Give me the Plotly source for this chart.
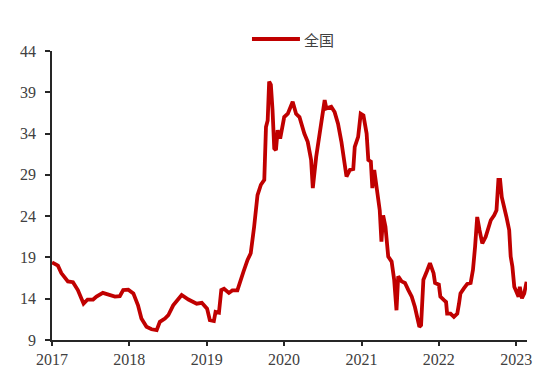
import plotly.graph_objects as go

dates = [
    "2017-01-01", "2017-01-29", "2017-02-14", "2017-03-17", "2017-04-10", "2017-05-03", "2017-05-30",
    "2017-06-18", "2017-07-14", "2017-07-30", "2017-08-29", "2017-10-01", "2017-10-25", "2017-11-17",
    "2017-12-03", "2017-12-27",
    "2018-01-20", "2018-02-11", "2018-02-27", "2018-03-23", "2018-04-16", "2018-05-10", "2018-05-25",
    "2018-06-18", "2018-07-04", "2018-07-27", "2018-08-13", "2018-09-05", "2018-10-07", "2018-11-15",
    "2018-12-09",
    "2019-01-03", "2019-01-16", "2019-02-04", "2019-02-12", "2019-02-28", "2019-03-11", "2019-03-24",
    "2019-04-16", "2019-05-02", "2019-05-26", "2019-06-11", "2019-06-24", "2019-07-13", "2019-07-28",
    "2019-08-13", "2019-08-29", "2019-09-14", "2019-09-30", "2019-10-08", "2019-10-16", "2019-10-23",
    "2019-10-31", "2019-11-08", "2019-11-16", "2019-11-24", "2019-12-02", "2019-12-14",
    "2020-01-02", "2020-01-19", "2020-02-11", "2020-02-27", "2020-03-14", "2020-04-06", "2020-04-22",
    "2020-05-08", "2020-05-16", "2020-06-01", "2020-06-17", "2020-06-30", "2020-07-11", "2020-07-19",
    "2020-08-11", "2020-08-27", "2020-09-12", "2020-09-28", "2020-10-14", "2020-10-22", "2020-11-07",
    "2020-11-23", "2020-11-30", "2020-12-16", "2020-12-28",
    "2021-01-10", "2021-01-25", "2021-02-02", "2021-02-14", "2021-02-21", "2021-03-02", "2021-03-13",
    "2021-03-28", "2021-04-05", "2021-04-13", "2021-04-24", "2021-05-07", "2021-05-23", "2021-06-04",
    "2021-06-15", "2021-06-23", "2021-07-09", "2021-07-25", "2021-08-10", "2021-08-26", "2021-09-10",
    "2021-09-23", "2021-10-01", "2021-10-09", "2021-10-20", "2021-11-05", "2021-11-20", "2021-12-07",
    "2021-12-14",
    "2022-01-01", "2022-01-08", "2022-01-24", "2022-02-04", "2022-02-09", "2022-02-25", "2022-03-13",
    "2022-03-29", "2022-04-06", "2022-04-13", "2022-04-29", "2022-05-15", "2022-05-31", "2022-06-11",
    "2022-06-21", "2022-07-01", "2022-07-12", "2022-07-25", "2022-08-10", "2022-08-23", "2022-09-03",
    "2022-09-19", "2022-09-30", "2022-10-09", "2022-10-17", "2022-10-25", "2022-11-10", "2022-11-16",
    "2022-11-29", "2022-12-06", "2022-12-14", "2022-12-23",
    "2023-01-02", "2023-01-12", "2023-01-18", "2023-01-28", "2023-02-08", "2023-02-19",
]

price = [
    18.4, 18.0, 17.1, 16.1, 16.0, 15.05, 13.4,
    13.9, 13.9, 14.25, 14.7, 14.45, 14.25, 14.3,
    15.05, 15.1,
    14.65, 13.2, 11.6, 10.6, 10.3, 10.2, 11.2,
    11.6, 12.0, 13.2, 13.8, 14.45, 13.9, 13.4,
    13.5,
    12.8, 11.4, 11.3, 12.4, 12.3, 15.05, 15.2,
    14.7, 15.0, 15.0, 16.1, 17.3, 18.7, 19.5,
    22.7, 26.55, 27.8, 28.4, 34.8, 35.6, 40.3,
    39.9, 36.8, 32.2, 32.0, 34.4, 33.4,
    36.0, 36.4, 37.85, 36.4, 36.0, 34.0, 33.0,
    30.8, 27.4, 31.2, 34.0, 36.8, 38.05, 37.05,
    37.25, 36.6, 35.2, 33.0, 30.0, 28.8, 29.6,
    29.7, 32.4, 33.6, 36.4,
    36.2, 34.0, 30.8, 30.6, 27.4, 29.6, 27.8,
    24.7, 20.9, 24.1, 22.7, 19.1, 18.5, 16.3,
    12.6, 16.7, 16.1, 15.9, 15.05, 14.25, 13.0,
    11.4, 10.6, 10.8, 16.3, 17.3, 18.3, 17.1,
    15.9,
    15.7, 14.25, 13.85, 13.6, 12.2, 12.2, 11.8,
    12.2, 13.4, 14.65, 15.25, 15.8, 15.9, 17.5,
    20.3, 23.9, 22.3, 20.7, 21.5, 22.7, 23.5,
    24.1, 24.7, 28.4, 28.4, 26.3, 24.7, 23.9,
    22.3, 19.1, 17.9, 15.45,
    14.85, 14.25, 15.45, 14.05, 14.65, 16.05,
]

series_name = "全国"
year_ticks = ["2017-01-01", "2018-01-01", "2019-01-01", "2020-01-01",
              "2021-01-01", "2022-01-01", "2023-01-01"]
year_labels = ["2017", "2018", "2019", "2020", "2021", "2022", "2023"]
y_ticks = [9, 14, 19, 24, 29, 34, 39, 44]

LINE_COLOR = "#C00000"

fig = go.Figure()
fig.add_trace(go.Scatter(
    x=dates, y=price, mode="lines", name=series_name,
    line=dict(color=LINE_COLOR, width=3.8),
    showlegend=False,
))

# legend drawn as a line sample + label (longer sample than plotly's built-in)
fig.add_shape(type="line", xref="paper", yref="paper",
              x0=0.421, x1=0.522, y0=1.0415, y1=1.0415,
              line=dict(color=LINE_COLOR, width=4))
fig.add_annotation(text=series_name, xref="paper", yref="paper",
                   x=0.527, y=1.0415, xanchor="left", yanchor="middle",
                   showarrow=False,
                   font=dict(family="Noto Sans CJK SC", size=15, color="#404040"))

tick_font = dict(family="Liberation Serif", size=16, color="#404040")

fig.update_layout(
    width=550, height=392,
    margin=dict(l=44, r=31, t=43, b=60),
    paper_bgcolor="white", plot_bgcolor="white",
    font=dict(family="Liberation Serif"),
    xaxis=dict(
        type="date",
        range=["2017-01-01", "2023-02-21"],
        tickmode="array", tickvals=year_ticks, ticktext=year_labels,
        ticks="outside", ticklen=4, tickwidth=1.5, tickcolor="#262626",
        showline=True, linecolor="#262626", linewidth=2,
        showgrid=False, zeroline=False,
        tickfont=tick_font,
    ),
    yaxis=dict(
        range=[9, 44],
        tickmode="array", tickvals=y_ticks,
        ticks="outside", ticklen=5, tickwidth=1.5, tickcolor="#262626",
        showline=True, linecolor="#262626", linewidth=1.5,
        showgrid=False, zeroline=False,
        tickfont=tick_font,
        ticklabelstandoff=6,
    ),
)

fig.write_html("out.html")
